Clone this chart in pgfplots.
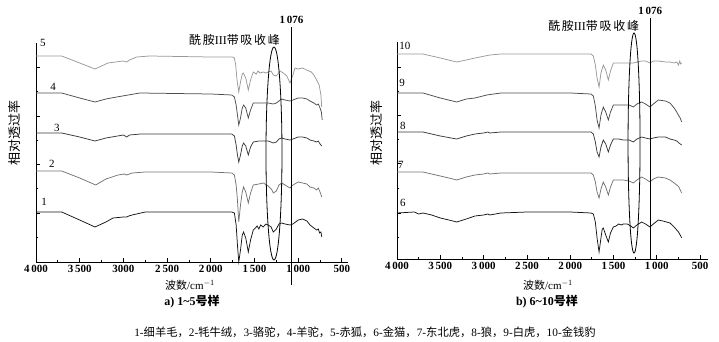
\documentclass[border=0pt]{standalone}
\usepackage{pgfplots}
\pgfplotsset{compat=1.18}
\usepackage{fontspec}
\setmainfont{Liberation Serif}
\newfontfamily\cjk{Noto Sans CJK SC}
\newfontfamily\cjkw{Noto Sans CJK SC}[LetterSpace=14]
\definecolor{cA}{gray}{0.08}
\definecolor{cB}{gray}{0.45}
\definecolor{cC}{gray}{0.22}
\definecolor{cD}{gray}{0.30}
\definecolor{cE}{gray}{0.60}
% x values are negative wavenumbers (axis runs from 4000 down to 500)
\pgfplotsset{spec/.style={
  scale only axis, axis lines=left,
  axis line style={-,line width=0.9pt},
  xmin=-4000, ymin=0,
  xtick={-4000,-3500,-3000,-2500,-2000,-1500,-1000,-500},
  minor x tick num=1,
  tick align=inside, major tick length=4pt, minor tick length=2pt,
  tick style={black,line width=0.8pt},
  yticklabels={},
  clip=false,
  ticklabel style={font=\fontsize{11}{12}\selectfont\bfseries},
  every axis plot/.append style={line width=0.75pt, no marks},
}}
\begin{document}
\begin{tikzpicture}
\path[use as bounding box] (0pt,0pt) rectangle (719pt,341pt);
% ---------------- left panel ----------------
\begin{axis}[spec, at={(36pt,79pt)}, anchor=south west,
  width=312pt, height=219pt, xmax=-430, ymax=219,
  xticklabels={4\,000,3\,500,3000,2\,500,2\,000,1\,500,1\,000,500},
  ytick={49,98,146,195}, minor ytick={25,74,122,171}]
\addplot[cA] coordinates {(-4000,50)(-3706,50)(-3500,42)(-3325,35)(-3200,40)(-3119,44)(-3000,45)(-2962,45)(-2940,46)(-2900,47)(-2750,50)(-2400,50)(-2000,50)(-1760,50)(-1730,49)(-1710,37)(-1695,17)(-1680,0)(-1660,12)(-1640,27)(-1625,30)(-1600,24)(-1571,10)(-1545,22)(-1514,32)(-1490,34)(-1470,36)(-1450,33)(-1430,37)(-1400,35)(-1370,38)(-1342,37)(-1310,35)(-1285,30)(-1250,33)(-1220,38)(-1189,39)(-1150,38)(-1094,37)(-1060,38)(-1000,42)(-950,43)(-900,41)(-865,37)(-820,34)(-790,32)(-770,33)(-755,29)(-740,30)(-730,25)};
\addplot[cB] coordinates {(-4000,91)(-3706,91)(-3500,84)(-3317,77)(-3200,83)(-3062,87)(-2990,88)(-2962,87)(-2900,89)(-2750,90)(-2000,90)(-1760,89)(-1730,87)(-1710,77)(-1695,62)(-1680,40)(-1660,57)(-1640,70)(-1625,75)(-1600,70)(-1571,59)(-1545,69)(-1514,77)(-1450,78)(-1400,79)(-1342,76)(-1300,72)(-1285,69)(-1250,71)(-1220,77)(-1189,79)(-1150,77)(-1094,74)(-1060,77)(-1000,80)(-950,79)(-900,78)(-865,75)(-820,74)(-790,72)(-770,74)(-750,70)(-730,65)};
\addplot[cC] coordinates {(-4000,129)(-3706,129)(-3500,125)(-3325,121)(-3200,124)(-3000,127)(-2962,125)(-2930,127)(-2800,128)(-2000,128)(-1760,128)(-1730,126)(-1710,117)(-1695,107)(-1680,100)(-1660,107)(-1640,116)(-1625,119)(-1600,116)(-1571,107)(-1545,115)(-1514,120)(-1450,121)(-1400,121)(-1342,121)(-1285,119)(-1250,120)(-1220,123)(-1189,124)(-1150,123)(-1094,122)(-1060,123)(-1000,125)(-950,125)(-900,124)(-865,122)(-820,121)(-790,120)(-770,121)(-750,118)(-730,116)};
\addplot[cD] coordinates {(-4000,169)(-3706,169)(-3500,164)(-3325,160)(-3200,163)(-3077,165)(-2810,169)(-2000,168)(-1760,167)(-1730,165)(-1710,157)(-1695,147)(-1680,137)(-1660,144)(-1640,154)(-1625,157)(-1600,154)(-1571,144)(-1545,152)(-1514,159)(-1450,159)(-1400,159)(-1342,159)(-1285,158)(-1250,159)(-1189,163)(-1150,162)(-1094,161)(-1060,162)(-1000,164)(-950,164)(-900,163)(-865,161)(-820,159)(-790,157)(-770,158)(-750,154)(-735,150)(-725,142)};
\addplot[cE] coordinates {(-4000,206)(-3706,206)(-3500,199)(-3325,193)(-3176,199)(-3005,201)(-2962,200)(-2930,202)(-2848,205)(-2700,206)(-2000,205)(-1750,205)(-1730,204)(-1715,197)(-1700,182)(-1680,170)(-1660,180)(-1640,188)(-1628,189)(-1600,184)(-1571,172)(-1545,182)(-1514,190)(-1480,188)(-1460,191)(-1437,189)(-1400,190)(-1370,189)(-1342,190)(-1310,191)(-1285,187)(-1250,186)(-1208,191)(-1170,189)(-1130,186)(-1094,179)(-1060,187)(-1037,194)(-1000,193)(-950,194)(-903,192)(-850,190)(-820,187)(-789,182)(-760,177)(-740,167)(-731,155)};
\draw[line width=0.8pt] (axis cs:-1076,-23) -- (axis cs:-1076,235);
\draw[line width=0.8pt] (axis cs:-1277,108.5) ellipse [x radius=8pt, y radius=106.5pt];
\node[font=\fontsize{11}{12}\selectfont\bfseries] at (axis cs:-1076,242) {1\,076};
\node[anchor=east,font=\fontsize{12}{12}\selectfont] at (axis cs:-1170,222) {{\cjkw 酰胺}III{\cjkw 带吸收峰}};
\node[font=\fontsize{11}{12}\selectfont] at (axis cs:-3920,219) {5};
\node[font=\fontsize{11}{12}\selectfont] at (axis cs:-3805,175) {4};
\node[font=\fontsize{11}{12}\selectfont] at (axis cs:-3760,134) {3};
\node[font=\fontsize{11}{12}\selectfont] at (axis cs:-3817,98) {2};
\node[font=\fontsize{11}{12}\selectfont] at (axis cs:-3908,60) {1};
\end{axis}
% ---------------- right panel ----------------
\begin{axis}[spec, at={(397pt,82pt)}, anchor=south west,
  width=311pt, height=217pt, xmax=-409, ymax=217,
  xticklabels={4\,000,3\,500,3\,000,2\,500,2\,000,1\,500,1\,000,500},
  ytick={46,96,144,192}, minor ytick={22,71,120,168}]
\addplot[cA] coordinates {(-4000,46)(-3800,47)(-3750,45)(-3700,46)(-3600,44)(-3500,41)(-3400,39)(-3310,37)(-3200,40)(-3100,43)(-3000,44)(-2950,45)(-2930,44)(-2800,46)(-2500,47)(-2000,47)(-1760,46)(-1733,45)(-1710,37)(-1690,21)(-1667,7)(-1645,21)(-1630,30)(-1618,31)(-1590,24)(-1560,17)(-1535,26)(-1502,32)(-1470,33)(-1440,35)(-1410,34)(-1387,35)(-1340,35)(-1300,33)(-1271,31)(-1230,34)(-1175,37)(-1130,35)(-1079,32)(-1040,35)(-983,39)(-930,38)(-848,36)(-800,32)(-770,29)(-750,27)(-730,24)(-713,21)};
\addplot[cB] coordinates {(-4000,87)(-3700,87)(-3600,85)(-3500,83)(-3400,81)(-3310,79)(-3200,82)(-3100,84)(-3000,85)(-2950,86)(-2930,85)(-2800,86)(-2000,86)(-1760,86)(-1733,84)(-1710,77)(-1690,67)(-1667,61)(-1645,70)(-1618,77)(-1590,72)(-1560,64)(-1535,72)(-1502,79)(-1440,79)(-1387,79)(-1320,78)(-1271,76)(-1230,79)(-1175,82)(-1130,80)(-1079,77)(-1040,80)(-983,82)(-900,81)(-848,79)(-800,76)(-770,74)(-745,72)(-730,69)(-713,66)};
\addplot[cC] coordinates {(-4000,127)(-3700,127)(-3500,123)(-3311,120)(-3200,123)(-3100,125)(-3000,126)(-2950,127)(-2930,126)(-2800,127)(-2000,127)(-1760,127)(-1733,125)(-1710,117)(-1690,107)(-1667,102)(-1645,112)(-1618,119)(-1590,115)(-1560,107)(-1535,114)(-1502,120)(-1440,120)(-1387,119)(-1320,119)(-1271,117)(-1230,120)(-1175,122)(-1130,121)(-1079,120)(-1040,121)(-983,122)(-900,122)(-848,120)(-800,119)(-770,118)(-745,116)(-713,114)};
\addplot[cD] coordinates {(-4000,166)(-3700,166)(-3500,161)(-3311,157)(-3200,160)(-3100,161)(-2964,164)(-2800,166)(-2000,166)(-1760,165)(-1733,163)(-1710,153)(-1690,139)(-1667,131)(-1645,144)(-1618,152)(-1590,147)(-1560,139)(-1535,147)(-1502,154)(-1440,154)(-1387,154)(-1320,154)(-1271,152)(-1230,155)(-1175,157)(-1130,155)(-1079,152)(-1040,155)(-983,159)(-900,158)(-848,156)(-800,151)(-770,147)(-745,143)(-730,141)(-713,137)};
\addplot[cE] coordinates {(-4000,205)(-3700,205)(-3500,201)(-3311,197)(-3200,199)(-3100,201)(-2926,204)(-2800,205)(-2000,205)(-1760,205)(-1733,203)(-1710,194)(-1690,181)(-1667,172)(-1645,186)(-1618,194)(-1590,189)(-1560,179)(-1535,188)(-1502,196)(-1440,196)(-1387,196)(-1320,196)(-1271,196)(-1230,197)(-1175,198)(-1130,198)(-1079,196)(-1040,198)(-983,198)(-900,197)(-848,197)(-800,196)(-770,197)(-750,194)(-735,198)(-725,195)(-713,196)};
\draw[line width=0.8pt] (axis cs:-1076,0) -- (axis cs:-1076,241);
\draw[line width=0.8pt] (axis cs:-1263,116) ellipse [x radius=6pt, y radius=110pt];
\node[font=\fontsize{11}{12}\selectfont\bfseries] at (axis cs:-1076,248) {1\,076};
\node[anchor=east,font=\fontsize{12}{12}\selectfont] at (axis cs:-1165,233) {{\cjkw 酰胺}III{\cjkw 带吸收峰}};
\node[font=\fontsize{11}{12}\selectfont] at (axis cs:-3908,213) {10};
\node[font=\fontsize{11}{12}\selectfont] at (axis cs:-3942,176) {9};
\node[font=\fontsize{11}{12}\selectfont] at (axis cs:-3931,133) {8};
\node[font=\fontsize{11}{12}\selectfont] at (axis cs:-3954,94) {7};
\node[font=\fontsize{11}{12}\selectfont] at (axis cs:-3931,56) {6};
\end{axis}
% ---------------- labels ----------------
\node[rotate=90,font=\fontsize{13}{13}\selectfont\cjk] at (15pt,208pt) {相对透过率};
\node[rotate=90,font=\fontsize{13}{13}\selectfont\cjk] at (377pt,208pt) {相对透过率};
\node[font=\fontsize{11}{12}\selectfont] at (190pt,56pt) {{\cjk 波数}/cm$^{-1}$};
\node[font=\fontsize{11}{12}\selectfont] at (548pt,56pt) {{\cjk 波数}/cm$^{-1}$};
\node[font=\fontsize{12}{12}\selectfont\bfseries] at (192pt,39pt) {a) 1\textasciitilde5{\cjk 号样}};
\node[font=\fontsize{12}{12}\selectfont\bfseries] at (547pt,39pt) {b) 6\textasciitilde10{\cjk 号样}};
\node[font=\fontsize{11.3}{12}\selectfont] at (365pt,9pt) {1-{\cjk 细羊毛，}2-{\cjk 牦牛绒，}3-{\cjk 骆驼，}4-{\cjk 羊驼，}5-{\cjk 赤狐，}6-{\cjk 金猫，}7-{\cjk 东北虎，}8-{\cjk 狼，}9-{\cjk 白虎，}10-{\cjk 金钱豹}};
\end{tikzpicture}
\end{document}
